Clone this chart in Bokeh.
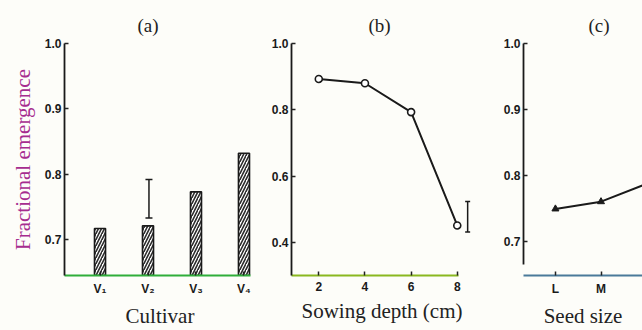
from bokeh.plotting import figure
from bokeh.layouts import row
from bokeh.models import Range1d, FixedTicker, Whisker, TeeHead, ColumnDataSource, PrintfTickFormatter
from bokeh.embed import file_html
from bokeh.resources import INLINE

# ---- data ----
cultivars = ["V₁", "V₂", "V₃", "V₄"]
cultivar_pos = [1, 2, 3, 4]
cultivar_emergence = [0.717, 0.721, 0.773, 0.832]
cultivar_err_x = [2.02]
cultivar_err_low = [0.733]
cultivar_err_high = [0.792]

depths = [2, 4, 6, 8]
depth_emergence = [0.893, 0.880, 0.793, 0.451]
depth_err_x = [8.45]
depth_err_low = [0.431]
depth_err_high = [0.523]

seed_sizes = ["L", "M", "S"]
seed_pos = [1, 2, 3]
seed_emergence = [0.749, 0.760, 0.787]

yticks_a = [0.7, 0.8, 0.9, 1.0]
yticks_b = [0.4, 0.6, 0.8, 1.0]
yticks_c = [0.7, 0.8, 0.9, 1.0]

BG = "#fdfdf9"
SERIF = "Liberation Serif"
SANS = "Liberation Sans"


def make_fig(width, xr, yr, left, right, title, title_offset, xlabel, base_color):
    p = figure(width=width, height=330, x_range=xr, y_range=yr,
               output_backend="svg", toolbar_location=None,
               min_border_left=left, min_border_right=right,
               min_border_top=43, min_border_bottom=54,
               background_fill_color=BG, border_fill_color=BG)
    p.outline_line_color = None
    p.grid.visible = False
    p.title.text = title
    p.title.align = "left"
    p.title.offset = title_offset
    p.title.standoff = 16
    p.title.text_font = SERIF
    p.title.text_font_size = "19px"
    p.title.text_font_style = "normal"
    p.title.text_color = "#222222"
    p.xaxis.axis_label = xlabel
    for ax in (p.xaxis[0], p.yaxis[0]):
        ax.major_label_text_font = SANS
        ax.major_label_text_font_style = "bold"
        ax.major_label_text_font_size = "12px"
        ax.major_label_text_color = "#1a1a1a"
        ax.minor_tick_line_color = None
        ax.major_tick_in = 4
        ax.major_tick_out = 0
        ax.major_tick_line_color = "#222222"
        ax.major_tick_line_width = 1.5
        ax.axis_label_text_font = SERIF
        ax.axis_label_text_font_style = "normal"
        ax.axis_label_text_font_size = "21px"
        ax.axis_label_text_color = "#222222"
    p.yaxis.axis_line_color = "#1a1a1a"
    p.yaxis.axis_line_width = 1.8
    p.yaxis.major_label_standoff = 3
    p.yaxis.formatter = PrintfTickFormatter(format="%.1f")
    p.xaxis.axis_line_color = base_color
    p.xaxis.axis_line_width = 2
    p.xaxis.major_label_standoff = 6
    p.xaxis.axis_label_standoff = 5
    return p


# ---- (a) cultivar ----
ya0 = 0.645
pa = make_fig(263, Range1d(0.26, 4.24), Range1d(ya0, 1.0), 64, 8,
              "(a)", 73, "Cultivar", "#2fae3a")
pa.vbar(x=cultivar_pos, top=cultivar_emergence, bottom=ya0, width=0.23,
        fill_color="white", line_color="#1a1a1a", line_width=1.6,
        hatch_pattern="/", hatch_color="#2a2a2a", hatch_scale=6, hatch_weight=1.6)
src_a = ColumnDataSource(dict(base=cultivar_err_x, lower=cultivar_err_low, upper=cultivar_err_high))
pa.add_layout(Whisker(source=src_a, base="base", lower="lower", upper="upper",
                      dimension="height", line_color="#1a1a1a", line_width=1.5,
                      upper_head=TeeHead(size=7, line_color="#1a1a1a", line_width=1.5),
                      lower_head=TeeHead(size=7, line_color="#1a1a1a", line_width=1.5)))
pa.xaxis.ticker = FixedTicker(ticks=cultivar_pos)
pa.xaxis.major_label_overrides = {p: l for p, l in zip(cultivar_pos, cultivars)}
pa.xaxis.bounds = (0.26, 4.13)
pa.yaxis.ticker = FixedTicker(ticks=yticks_a)
pa.yaxis.bounds = (ya0, 1.0)
pa.yaxis.axis_label = "Fractional emergence"
pa.yaxis.axis_label_text_color = "#a62c8f"
pa.yaxis.axis_label_standoff = 7

# ---- (b) sowing depth ----
pb = make_fig(230, Range1d(0.817, 8.66), Range1d(0.3, 1.0), 28, 21,
              "(b)", 77, "Sowing depth (cm)", "#8ab820")
pb.line(depths, depth_emergence, line_color="#1a1a1a", line_width=2)
pb.scatter(depths, depth_emergence, marker="circle", size=7,
           fill_color="white", line_color="#1a1a1a", line_width=1.6)
src_b = ColumnDataSource(dict(base=depth_err_x, lower=depth_err_low, upper=depth_err_high))
pb.add_layout(Whisker(source=src_b, base="base", lower="lower", upper="upper",
                      dimension="height", line_color="#1a1a1a", line_width=1.5,
                      upper_head=TeeHead(size=5, line_color="#1a1a1a", line_width=1.5),
                      lower_head=TeeHead(size=5, line_color="#1a1a1a", line_width=1.5)))
pb.xaxis.ticker = FixedTicker(ticks=depths)
pb.xaxis.bounds = (0.817, 8.05)
pb.yaxis.ticker = FixedTicker(ticks=yticks_b)
pb.yaxis.bounds = (0.3, 1.0)

# ---- (c) seed size ----
yc0 = 0.648
pc = make_fig(149, Range1d(0.30, 2.91), Range1d(yc0, 1.0), 30, 0,
              "(c)", 65, "Seed size", "#4a7a9a")
pc.line(seed_pos, seed_emergence, line_color="#1a1a1a", line_width=2)
pc.scatter(seed_pos, seed_emergence, marker="triangle", size=7,
           fill_color="#1a1a1a", line_color="#1a1a1a")
pc.xaxis.ticker = FixedTicker(ticks=seed_pos)
pc.xaxis.major_label_overrides = {p: l for p, l in zip(seed_pos, seed_sizes)}
pc.yaxis.ticker = FixedTicker(ticks=yticks_c)
pc.yaxis.bounds = (0.665, 1.0)

layout = row(pa, pb, pc, spacing=0)
layout.styles = {"background-color": BG}

open("out.html", "w").write(file_html(layout, INLINE))
